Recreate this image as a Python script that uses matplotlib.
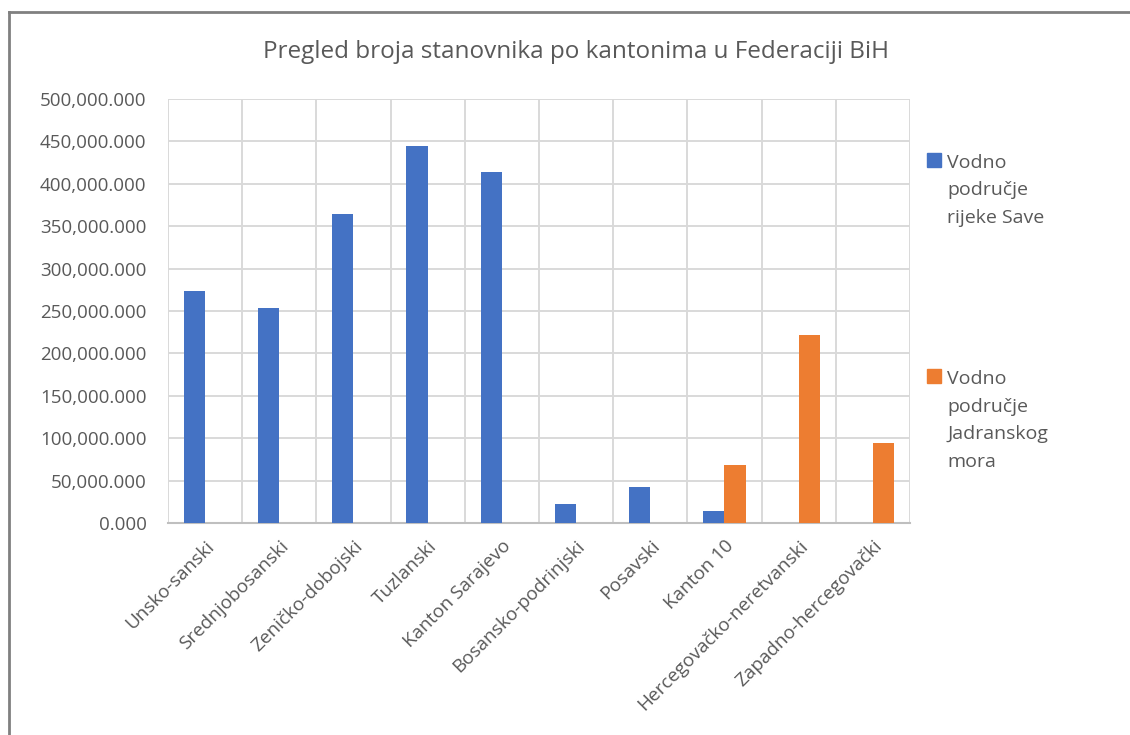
import numpy as np
import matplotlib.pyplot as plt
from matplotlib.lines import Line2D
from matplotlib.patches import Rectangle
from matplotlib.ticker import FuncFormatter

# Broj stanovnika po kantonima, po vodnim područjima
kantoni = ['Unsko-sanski', 'Srednjobosanski', 'Zeničko-dobojski', 'Tuzlanski',
           'Kanton Sarajevo', 'Bosansko-podrinjski', 'Posavski', 'Kanton 10',
           'Hercegovačko-neretvanski', 'Zapadno-hercegovački']
sava = [273000, 254100, 364100, 445000, 413600, 22800, 42800, 14500, 0, 0]
jadran = [0, 0, 0, 0, 0, 0, 0, 68700, 221900, 94300]
serije = ['Vodno\npodručje\nrijeke Save', 'Vodno\npodručje\nJadranskog\nmora']
boje = ['#4472C4', '#ED7D31']

plt.rcParams['font.family'] = ['Open Sans', 'DejaVu Sans']
txt = '#595959'
W, H = 1130, 735

fig = plt.figure(figsize=(W / 100, H / 100), dpi=100)
ax = fig.add_axes([168 / W, 1 - 523 / H, (910 - 168) / W, (523 - 99) / H])

x = np.arange(len(kantoni))
w = 0.287
ax.bar(x - w / 2, sava, w, color=boje[0], zorder=3)
ax.bar(x + w / 2, jadran, w, color=boje[1], zorder=3)

ax.set_xlim(-0.5, len(kantoni) - 0.5)
ax.set_ylim(0, 500000)
ax.set_yticks(np.arange(0, 500001, 50000))
ax.yaxis.set_major_formatter(FuncFormatter(lambda v, p: f'{v:,.3f}'))

# vertical gridlines between categories
ax.set_xticks(x)
ax.set_xticks(np.arange(-0.5, len(kantoni), 1), minor=True)
ax.grid(True, axis='y', color='#d9d9d9', linewidth=1.4, zorder=0)
ax.grid(True, axis='x', which='minor', color='#d9d9d9', linewidth=1.4, zorder=0)
ax.tick_params(which='both', length=0)
ax.tick_params(axis='y', labelsize=13.5, labelcolor=txt, pad=15.5)
ax.set_xticklabels(kantoni, rotation=45, ha='right', rotation_mode='anchor',
                   fontsize=13.6, color=txt)
ax.tick_params(axis='x', pad=10)

for s in ['top', 'right', 'left']:
    ax.spines[s].set_visible(False)
ax.spines['bottom'].set_color('#bfbfbf')
ax.spines['bottom'].set_linewidth(1.5)

fig.text(576 / W, 1 - 52 / H, 'Pregled broja stanovnika po kantonima u Federaciji BiH',
         fontsize=17.5, color=txt, ha='center', va='center')

# legend: square next to first line, text anchored on last line's baseline
razmak = 28
for lab, c, yc in zip(serije, boje, [160, 376]):
    fig.patches.append(Rectangle((927 / W, 1 - (yc + 7) / H), 14 / W, 14 / H,
                                 transform=fig.transFigure, color=c))
    n = lab.count('\n')
    fig.text(947 / W, 1 - (yc + 7 + n * razmak) / H, lab, fontsize=14, color=txt,
             ha='left', va='baseline', linespacing=1.69)

# chart border
fig.add_artist(Line2D([9 / W, 9 / W], [0, 1 - 12 / H], color='#808080', lw=2))
fig.add_artist(Line2D([9 / W, 1], [1 - 12 / H, 1 - 12 / H], color='#808080', lw=2))

fig.savefig('out.png', dpi=100)
